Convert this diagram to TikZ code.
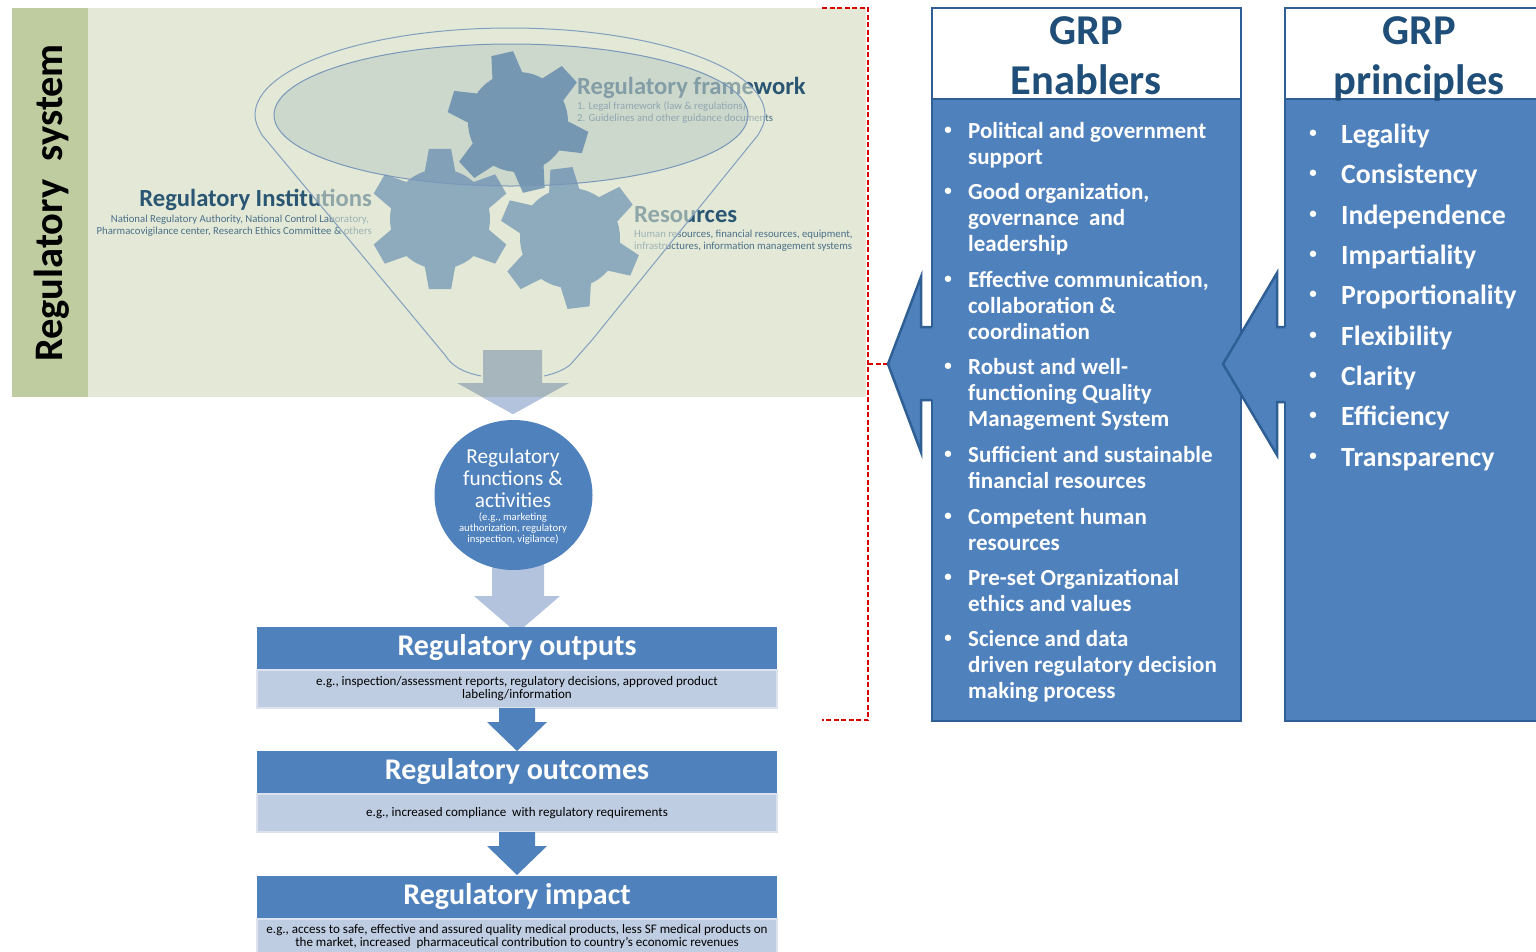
\documentclass[tikz,border=0pt]{standalone}
\usepackage{fontspec}
\setmainfont{Carlito}
\usepackage{tikz}
\definecolor{grpblue}{HTML}{4F81BD}
\definecolor{grpedge}{HTML}{2F5F94}
\definecolor{grpnavy}{HTML}{1F4E79}
\definecolor{palebox}{HTML}{BFCDE2}
\definecolor{paleedge}{HTML}{DCE3EF}
\definecolor{sagebg}{HTML}{E3E9D6}
\definecolor{sageband}{HTML}{BECCA0}
\definecolor{geartop}{HTML}{7F9FB6}
\definecolor{gearlow}{HTML}{8EABBD}
\definecolor{titleteal}{HTML}{2A5674}
\definecolor{arrowpale}{HTML}{B3C3DE}
\definecolor{arrowgray}{HTML}{A6B6BC}
\tikzset{
  headbar/.style={fill=grpblue, minimum width=520pt, minimum height=42pt, inner sep=0pt, text height=21pt, text depth=6pt, text=white, font=\fontsize{30}{32}\selectfont\bfseries},
  subbar/.style={fill=palebox, draw=paleedge, line width=1.5pt, minimum width=520pt, inner sep=0pt, align=center, font=\fontsize{13.05}{13}\selectfont},
  enabtext/.style={anchor=north west, inner sep=0pt, align=left, text=white, font=\fontsize{23}{26.3}\selectfont\bfseries},
  princtext/.style={anchor=west, inner sep=0pt, text=white, font=\fontsize{27.8}{30}\selectfont\bfseries},
  dotmark/.style={inner sep=0pt, text=white, font=\fontsize{15}{15}\selectfont\bfseries},
  gridtitle/.style={inner sep=0pt, text=grpnavy, font=\fontsize{42.5}{49}\selectfont\bfseries},
  parttitle/.style={inner sep=0pt, text=titleteal, font=\fontsize{24.6}{26}\selectfont\bfseries},
  partnote/.style={inner sep=0pt, text=titleteal!85, font=\fontsize{10.75}{12}\selectfont},
  paneledge/.style={draw=grpedge, line width=2.5pt},
  redbracket/.style={red!85!black, dash pattern=on 5pt off 2.5pt, line width=1.2pt},
}
% one cog: centre x, centre y, turn, colour
\newcommand{\cogwheel}[4]{
  \begin{scope}[shift={(#1,#2)}]
    \fill [#4] (0,0) circle [radius=50];
    \foreach \a in {0,60,...,300}
      \fill [#4] (\a+#3-19:48) -- (\a+#3-9:71) -- (\a+#3+9:71) -- (\a+#3+19:48) -- cycle;
  \end{scope}
}
\begin{document}
\begin{tikzpicture}[x=1pt,y=-1pt]
    \useasboundingbox (0,0) rectangle (1536,951);
    % regulatory system panel
    \fill [sagebg] (88,8) rectangle (866,397);
    \fill [sageband] (12,8) rectangle (88,397);
    \node [rotate=90, inner sep=0pt, font=\fontsize{40.5}{42}\selectfont\bfseries] (sysname) at (52,203) {Regulatory\ \ system};
    \node [parttitle, anchor=west] (framename) at (577,87.5) {Regulatory framework};
    \node [partnote, anchor=west] (framea) at (577,106.5) {1. Legal framework (law \& regulations)};
    \node [partnote, anchor=west] (frameb) at (577,118.5) {2. Guidelines and other guidance documents};
    \node [parttitle, anchor=east] (instname) at (372,199.5) {Regulatory Institutions};
    \node [partnote, anchor=east] (insta) at (369,219.5) {National Regulatory Authority, National Control Laboratory,};
    \node [partnote, anchor=east] (instb) at (372,231.5) {Pharmacovigilance center, Research Ethics Committee \& others};
    \node [parttitle, anchor=west] (resname) at (634,214.5) {Resources};
    \node [partnote, anchor=west] (resa) at (634,234.5) {Human resources, financial resources, equipment,};
    \node [partnote, anchor=west] (resb) at (634,246.5) {infrastructures, information management systems};
    % funnel
    \fill [sagebg, opacity=0.55] (481,376) .. controls (462,372) and (452,366) .. (445,355) -- (262,135) .. controls (258,128) and (255,122) .. (255,115)
      arc [start angle=180, end angle=360, x radius=255, y radius=87]
      .. controls (765,122) and (762,128) .. (758,135) -- (592,340) -- (570,365) .. controls (562,371) and (553,374) .. (544,376) -- cycle;
    \cogwheel{440}{219}{-90}{gearlow}
    \cogwheel{570}{238}{-97}{gearlow}
    \cogwheel{518}{122}{-103}{geartop}
    \filldraw [fill=grpedge, fill opacity=0.12, draw=grpedge!65, line width=1pt] (511,115) ellipse [x radius=237, y radius=71];
    \draw [grpedge!60, line width=1pt] (481,376) .. controls (462,372) and (452,366) .. (445,355) -- (262,135) .. controls (258,128) and (255,122) .. (255,115)
      arc [start angle=180, end angle=360, x radius=255, y radius=87]
      .. controls (765,122) and (762,128) .. (758,135) -- (592,340) -- (570,365) .. controls (562,371) and (553,374) .. (544,376);
    % arrow out of the funnel
    \fill [arrowgray] (483,350) -- (542,350) -- (542,383) -- (569,383) -- (513,414) -- (457,383) -- (483,383) -- cycle;
    \begin{scope}
      \clip (400,397) rectangle (620,420);
      \fill [arrowpale] (483,350) -- (542,350) -- (542,383) -- (569,383) -- (513,414) -- (457,383) -- (483,383) -- cycle;
    \end{scope}
    % functions
    \fill [arrowpale] (492,560) -- (544,560) -- (544,596) -- (560,596) -- (517,633) -- (474,596) -- (492,596) -- cycle;
    \fill [grpblue] (513.5,495) ellipse [x radius=79, y radius=75];
    \node [inner sep=0pt, align=center, text=white, font=\fontsize{21.3}{22}\selectfont] (funcname) at (513,478) {Regulatory\\functions \&\\activities};
    \node [inner sep=0pt, align=center, text=white, font=\fontsize{10.7}{11}\selectfont] (funcnote) at (513,528) {(e.g., marketing\\authorization, regulatory\\inspection, vigilance)};
    % results chain
    \node [headbar] (outputs) at (517,648) {Regulatory outputs};
    \node [subbar, minimum height=38pt, below=0pt] (outnote) at (outputs.south) {e.g., inspection/assessment reports, regulatory decisions, approved product\\labeling/information};
    \node [headbar] (outcomes) at (517,772) {Regulatory outcomes};
    \node [subbar, minimum height=38pt, below=0pt] (outcnote) at (outcomes.south) {e.g., increased compliance\ \ with regulatory requirements};
    \node [headbar] (impact) at (517,897) {Regulatory impact};
    \node [subbar, minimum height=36pt, below=0pt] (impnote) at (impact.south) {e.g., access to safe, effective and assured quality medical products, less SF medical products on\\the market, increased\ \ pharmaceutical contribution to country’s economic revenues};
    \foreach \yy in {708,832}
      \fill [grpblue] (499,\yy) -- (535,\yy) -- (535,\yy+14) -- (547,\yy+14) -- (517,\yy+43) -- (487,\yy+14) -- (499,\yy+14) -- cycle;
    % red bracket
    \coordinate (brtop) at (822,8);
    \coordinate (brbot) at (822,720);
    \coordinate (brmid) at (868,364);
    \coordinate (brtip) at (888,364);
    \draw [redbracket] (brtop) -| (brmid) |- (brbot);
    \draw [redbracket] (brmid) -- (brtip);
    % enablers column
    \fill [grpblue] (932,99) rectangle (1241,721);
    \draw [paneledge] (932,99) rectangle (1241,721);
    \draw [paneledge] (932,8) rectangle (1241,99);
    \node [gridtitle] (enabtop) at (1086,31) {GRP};
    \node [gridtitle] (enabname) at (1086,80) {Enablers};
    \foreach \nm/\yy/\txt in {ea/122/{Political and government\\support},
        eb/183/{Good organization,\\governance\ \ and\\leadership},
        ec/271/{Effective communication,\\collaboration \&\\coordination},
        ed/358/{Robust and well-\\functioning Quality\\Management System},
        ee/446/{Sufficient and sustainable\\financial resources},
        ef/508/{Competent human\\resources},
        eg/569/{Pre-set Organizational\\ethics and values},
        eh/630/{Science and data\\driven regulatory decision\\making process}} {
      \node [enabtext] (\nm) at (968,\yy) {\txt};
      \node [dotmark] (\nm dot) at (948,\yy+9) {•};
    }
    % principles column
    \fill [grpblue] (1285,99) rectangle (1536,721);
    \draw [paneledge] (1540,721) -- (1285,721) -- (1285,99) -- (1540,99);
    \draw [paneledge] (1540,8) -- (1285,8) -- (1285,99);
    \node [gridtitle] (princtop) at (1419,31) {GRP};
    \node [gridtitle, anchor=base] (princname) at (1419,94) {principles};
    \foreach \nm/\yy/\txt in {pa/134/Legality, pb/174/Consistency, pc/215/Independence, pd/255/Impartiality,
        pe/295/Proportionality, pf/336/Flexibility, pg/376/Clarity, ph/416/Efficiency, pi/457/Transparency} {
      \node [princtext, anchor=base west] (\nm) at (1341,\yy+9) {\txt};
      \node [dotmark] (\nm dot) at (1313,\yy) {•};
    }
    % side arrows
    \fill [grpblue] (936,327) -- (921,327) -- (921,277) -- (888,364) -- (921,452) -- (921,400) -- (936,400) -- cycle;
    \draw [paneledge] (932,327) -- (921,327) -- (921,277) -- (888,364) -- (921,452) -- (921,400) -- (932,400);
    \fill [grpblue] (1290,327) -- (1277,327) -- (1277,273) -- (1223,364) -- (1277,455) -- (1277,402) -- (1290,402) -- cycle;
    \draw [paneledge] (1285,327) -- (1277,327) -- (1277,273) -- (1223,364) -- (1277,455) -- (1277,402) -- (1285,402);
\end{tikzpicture}
\end{document}
